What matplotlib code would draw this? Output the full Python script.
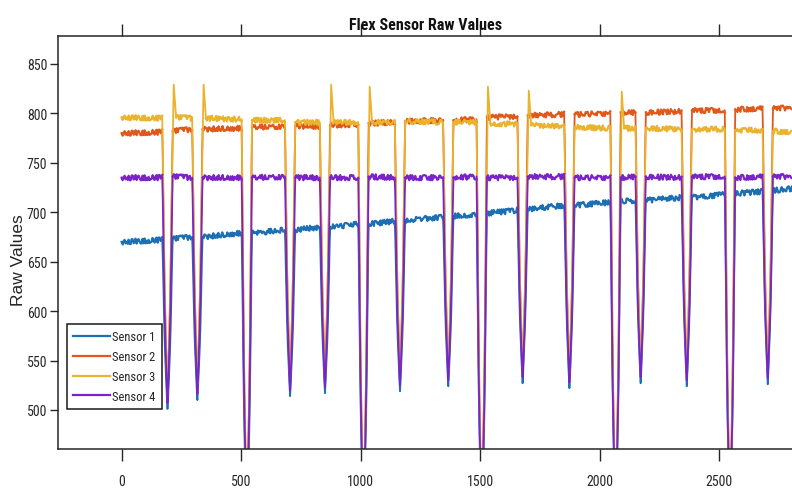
import matplotlib
matplotlib.use("Agg")
import matplotlib.pyplot as plt
from matplotlib import font_manager
from matplotlib.font_manager import FontProperties
from matplotlib.lines import Line2D
import numpy as np

# ---------------------------------------------------------------------------
# Recorded flex-sensor session: raw ADC values of four sensors over ~2850
# samples. Each bend of the hand pulls every sensor down sharply; between the
# bends the readings sit on a plateau.
# ---------------------------------------------------------------------------
dip_centers = [192, 317, 524, 705, 851, 1012, 1165, 1367, 1507, 1678,
               1874, 2067, 2172, 2365, 2546, 2704]
trace_end = 2850

# plateau levels (start, end) between consecutive bends
s1_levels = [(670, 672), (673, 675), (675, 679), (679, 682), (682, 685),
             (685, 688), (688, 691), (692, 695), (696, 698), (699, 702),
             (703, 707), (707, 710), (711, 712), (712, 715), (715, 718),
             (719, 721), (722, 725)]
s2_levels = [(780, 781), (782, 784), (784, 785), (786, 787), (787, 787),
             (788, 789), (790, 791), (792, 793), (793, 794), (796, 797),
             (798, 799), (799, 800), (801, 801), (801, 802), (803, 803),
             (804, 805), (805, 806)]
s3_levels = [(796, 795), (796, 795), (795, 794), (793, 793), (791, 791),
             (791, 791), (791, 791), (792, 791), (791, 791), (790, 789),
             (788, 787), (786, 785), (785, 785), (785, 784), (784, 784),
             (783, 783), (782, 781)]
s4_levels = [(735, 735), (736, 735), (735, 735), (735, 736), (735, 735),
             (735, 735), (736, 735), (735, 735), (735, 736), (735, 735),
             (736, 736), (735, 735), (735, 736), (736, 735), (736, 736),
             (735, 736), (736, 736)]

# lowest reading reached during each bend
s1_min = [501, 510, 380, 514, 517, 380, 519, 524, 380, 527, 522, 380, 527, 524, 380, 526]
s2_min = [515, 524, 390, 528, 531, 390, 533, 538, 390, 541, 536, 390, 541, 538, 390, 540]
s3_min = [517, 526, 392, 530, 533, 392, 535, 540, 392, 543, 538, 392, 543, 540, 392, 542]
s4_min = [507, 516, 385, 520, 523, 385, 525, 530, 385, 533, 528, 385, 533, 530, 385, 532]

# overshoot of sensor 3 when the finger is released (None = no overshoot)
s3_spikes = [829, 829, None, None, 829, 827, None, None, 827, 823,
             None, 822, None, None, None, None]

# shape of one bend: sample offset from the bend centre and fraction of the
# drop from plateau to minimum
dip_offsets = [-22, -20, -13, -10, -3, 0, 3, 10, 13, 20, 22]
dip_depths = [0.0, 0.09, 0.54, 0.68, 0.92, 1.0, 0.92, 0.68, 0.54, 0.09, 0.0]
spike_offsets = [26, 36]

labels = ["Sensor 1", "Sensor 2", "Sensor 3", "Sensor 4"]
colors = ["#1b6fb3", "#e0591b", "#ebb22e", "#7b22c8"]

x_ticks = [0, 500, 1000, 1500, 2000, 2500]
y_ticks = [500, 550, 600, 650, 700, 750, 800, 850]


def sensor_paths(levels, minima, spikes=None):
    """Split a trace into noisy plateau pieces and smooth bend pieces."""
    n = len(dip_centers)
    px, py, dx, dy = [], [], [], []
    start = 0
    for k in range(n + 1):
        lo, hi = levels[k]
        end = dip_centers[k] + dip_offsets[0] if k < n else trace_end
        px += [start, end, np.nan]
        py += [lo, hi, np.nan]
        if k == n:
            break
        c, m = dip_centers[k], minima[k]
        nxt = levels[k + 1][0]
        peak = spikes[k] if spikes else None
        for off, d in zip(dip_offsets, dip_depths):
            if peak is not None and off == dip_offsets[-2]:
                dx += [c + spike_offsets[0], c + spike_offsets[1]]
                dy += [peak, nxt]
                start = c + spike_offsets[1]
                break
            base = hi if off <= 0 else nxt
            dx.append(c + off)
            dy.append(base - d * (base - m))
        else:
            start = c + dip_offsets[-1]
        dx.append(np.nan)
        dy.append(np.nan)
    return px, py, dx, dy


# Prefer a narrow sans face (the chart uses condensed lettering)
entries = font_manager.fontManager.ttflist
narrow = None
for wanted in ["Liberation Sans Narrow", "Arial Narrow", "Roboto Condensed",
               "Open Sans Condensed", "Noto Sans Condensed", "Noto Sans",
               "Roboto", "Open Sans", "DejaVu Sans", "Lato", "Inter"]:
    for f in entries:
        if f.name != wanted:
            continue
        if wanted.endswith(("Narrow", "Condensed")) or "condensed" in str(f.stretch):
            narrow = (wanted, "condensed" if "condensed" in str(f.stretch) else "normal")
            break
    if narrow:
        break

if narrow:
    FAMILY, STRETCH = narrow
    TICK_FS, LEG_FS, TITLE_FS = 10, 9, 11.5
else:
    FAMILY, STRETCH = "Liberation Sans", "normal"
    TICK_FS, LEG_FS, TITLE_FS = 9, 8.3, 9.5

plt.rcParams["font.family"] = [FAMILY, "DejaVu Sans"]
plt.rcParams["font.stretch"] = STRETCH

INK = "#262626"
W, H = 792, 489
fig = plt.figure(figsize=(W / 100, H / 100), dpi=100)
ax_left, ax_right, ax_top, ax_bottom = 58.3, 814.6, 36.7, 450.0
ax = fig.add_axes([ax_left / W, (H - ax_bottom) / H,
                   (ax_right - ax_left) / W, (ax_bottom - ax_top) / H])

series = [(s1_levels, s1_min, None), (s2_levels, s2_min, None),
          (s3_levels, s3_min, s3_spikes), (s4_levels, s4_min, None)]

for (levels, minima, spikes), col in zip(series, colors):
    px, py, dx, dy = sensor_paths(levels, minima, spikes)
    plateau, = ax.plot(px, py, color=col, lw=1.6, solid_joinstyle="round")
    plateau.set_sketch_params(scale=2.6, length=1.5, randomness=3.0)
    ax.plot(dx, dy, color=col, lw=1.3, solid_joinstyle="round")

ax.set_xlim(-265, 2900)
ax.set_ylim(460.5, 878.6)
ax.set_xticks(x_ticks)
ax.set_yticks(y_ticks)

for side in ax.spines.values():
    side.set_color(INK)
    side.set_linewidth(1.1)

ax.tick_params(axis="x", which="both", direction="out", top=True, length=8.6,
               width=1.0, color=INK, labelcolor=INK, labelsize=TICK_FS, pad=9.2)
ax.tick_params(axis="y", which="both", direction="out", right=True, length=5.8,
               width=1.0, color=INK, labelcolor=INK, labelsize=TICK_FS, pad=2.2)

ax.set_title("Flex Sensor Raw Values",
             fontproperties=FontProperties(family=[FAMILY, "DejaVu Sans"],
                                           stretch=STRETCH, weight="bold",
                                           size=TITLE_FS),
             color="#111111", x=0.486, y=1.0162, va="baseline", pad=0)

ax.set_ylabel("Raw Values", fontfamily=["Liberation Sans", "DejaVu Sans"],
              fontstretch="normal", fontsize=12.5, color=INK)
ax.yaxis.set_label_coords(-0.0425, 0.4597)

handles = [Line2D([], [], color=c, lw=1.6) for c in colors]
leg = ax.legend(handles, labels, loc="lower left",
                bbox_to_anchor=(66.7 / W, (H - 410) / H),
                bbox_transform=fig.transFigure, borderaxespad=0,
                prop=FontProperties(family=[FAMILY, "DejaVu Sans"],
                                    stretch=STRETCH, size=LEG_FS),
                frameon=True, fancybox=False, framealpha=1,
                edgecolor="#1a1a1a", handlelength=2.95, handletextpad=0.2,
                labelspacing=0.55, borderpad=0.5)
leg.get_frame().set_linewidth(1.1)
for t in leg.get_texts():
    t.set_color(INK)

fig.savefig("out.png", dpi=100)
